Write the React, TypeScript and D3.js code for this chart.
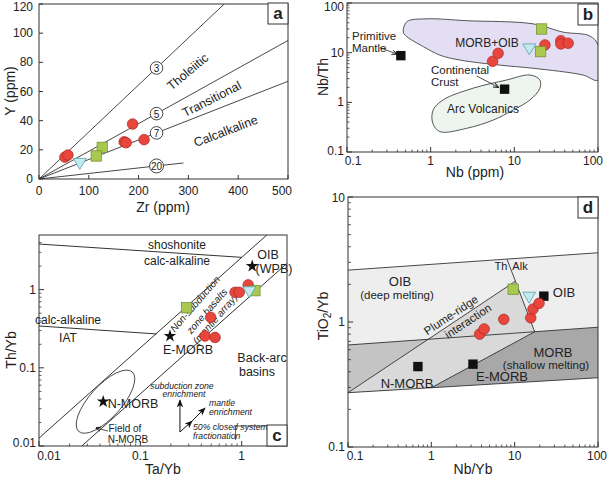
import React from 'react';
import * as d3 from 'd3';

type Pt = [number, number];
const FONT = "'Liberation Sans', Arial, Helvetica, sans-serif";

// ---------------- Panel a : Y vs Zr ----------------
const aXTicks = [0, 100, 200, 300, 400, 500];
const aYTicks = [0, 20, 40, 60, 80, 100, 120];
const aRatioLabels = ['3', '5', '7', '20'];
const aRatioEndZr = [372, 500, 500, 290];
const aRatioEndY = [120, 95, 67, 11];
const aRatioLabelZr = 236;
const aFieldNames = ['Tholeiitic', 'Transitional', 'Calcalkaline'];
const aFieldZr = [299, 347, 375];
const aFieldY = [73.4, 54.7, 32.7];
const aFieldAngle = [-40, -27, -21];
const aRedZr = [52, 58, 188, 171, 175, 211];
const aRedY = [15, 16.4, 37.7, 25.5, 24.9, 27];
const aGreenZr = [127, 115];
const aGreenY = [21.7, 15.8];
const aCyanZr = [82];
const aCyanY = [10.7];

// ---------------- Panel b : Nb/Th vs Nb ----------------
const bMorbOibNb = [0.47, 0.52, 0.9, 2.7, 16.8, 38, 80, 100, 100, 66, 16.8, 6.8, 2.24, 1.29, 0.82, 0.52];
const bMorbOibNbTh = [26, 42, 48, 44, 38, 26, 21.7, 14.3, 2.8, 3.55, 4.85, 5.6, 7.1, 8.9, 13.2, 21];
const bArcNb = [1.07, 1.41, 3.2, 8.1, 15.4, 20.2, 20.2, 15.4, 9.7, 5.6, 2.7, 1.29, 1.06];
const bArcNbTh = [0.7, 1.12, 1.92, 2.82, 3.55, 2.82, 1.92, 1.12, 0.7, 0.44, 0.3, 0.257, 0.38];
const bRefNames = ['Primitive Mantle', 'Continental Crust'];
const bRefNb = [0.44, 7.65];
const bRefNbTh = [8.7, 1.84];
const bRedNb = [5.5, 6.4, 23.2, 36, 36, 44];
const bRedNbTh = [6.7, 9.7, 14.3, 17.4, 15, 15.5];
const bGreenNb = [21.2, 20.6];
const bGreenNbTh = [30, 10.5];
const bCyanNb = [15.1];
const bCyanNbTh = [11.9];
const bTicks = [0.1, 1, 10, 100];
const bTickLabels = ['0.1', '1', '10', '100'];

// ---------------- Panel c : Th/Yb vs Ta/Yb ----------------
const cUpperDiag: Pt[] = [[0.01, 0.0126], [1.77, 5.0]];
const cLowerDiag: Pt[] = [[0.0264, 0.01], [2.8, 2.17]];
const cShoshLine: Pt[] = [[0.01, 3.83], [1.0, 2.59]];
const cIatLine: Pt[] = [[0.01, 0.343], [0.145, 0.271]];
const cStarNames = ['OIB', 'E-MORB', 'N-MORB'];
const cStarTaYb = [1.27, 0.196, 0.043];
const cStarThYb = [2.0, 0.255, 0.037];
const cRedTaYb = [1.16, 0.86, 0.946, 0.494, 0.435, 0.546];
const cRedThYb = [1.15, 0.925, 0.925, 0.443, 0.255, 0.245];
const cGreenTaYb = [0.286, 1.35];
const cGreenThYb = [0.587, 0.97];
const cCyanTaYb = [1.19];
const cCyanThYb = [0.94];
const cNmorbField: Pt = [0.0453, 0.0369];
const cXTicks = [0.01, 0.1, 1];
const cXTickLabels = ['0.01', '0.1', '1'];
const cYTicks = [0.01, 0.1, 1];
const cYTickLabels = ['0.01', '0.1', '1'];
const cVecOrigin: Pt = [0.246, 0.0151];
const cVecSubduction: Pt = [0.246, 0.0387];
const cVecFractMid: Pt = [0.324, 0.0209];
const cVecMantle: Pt = [0.435, 0.0306];

// ---------------- Panel d : TiO2/Yb vs Nb/Yb ----------------
const dOibTop: Pt[] = [[0.1, 2.6], [100, 3.58]];
const dMidLine: Pt[] = [[0.1, 0.655], [100, 0.908]];
const dBotLine: Pt[] = [[0.1, 0.272], [100, 0.358]];
const dPlume: Pt[] = [[0.1, 0.272], [10.2, 2.12]];
const dThAlk: Pt[] = [[8.1, 3.17], [17.4, 0.836]];
const dEmorb: Pt[] = [[1.0, 0.298], [17.4, 0.836]];
const dRefNames = ['N-MORB', 'E-MORB', 'OIB'];
const dRefNbYb = [0.69, 3.16, 22.4];
const dRefTiYb = [0.44, 0.46, 1.61];
const dRedNbYb = [3.81, 4.3, 7.4, 15.6, 16.6, 19.6];
const dRedTiYb = [0.8, 0.88, 1.05, 1.08, 1.27, 1.41];
const dGreenNbYb = [9.6];
const dGreenTiYb = [1.83];
const dCyanNbYb = [14.9];
const dCyanTiYb = [1.58];
const dXTicks = [0.1, 1, 10, 100];
const dXTickLabels = ['0.1', '1', '10', '100'];
const dYTicks = [0.1, 1, 10];
const dYTickLabels = ['0.1', '1', '10'];

// ---------------- helpers ----------------
const STROKE = '#333';
const RED = '#e8453c';
const RED_S = '#a52a24';
const GREEN = '#a9c84f';
const GREEN_S = '#6d8c2c';
const CYAN = '#c2ebf0';
const CYAN_S = '#5e9fa8';

function minorLogTicks(lo: number, hi: number): number[] {
  const out: number[] = [];
  for (let e = Math.floor(Math.log10(lo)); e <= Math.ceil(Math.log10(hi)); e++) {
    for (let m = 2; m < 10; m++) {
      const v = m * Math.pow(10, e);
      if (v > lo * 1.0001 && v < hi * 0.9999) out.push(v);
    }
  }
  return out;
}

function intersect(a1: number[], a2: number[], b1: number[], b2: number[]): number[] {
  const d = (a1[0] - a2[0]) * (b1[1] - b2[1]) - (a1[1] - a2[1]) * (b1[0] - b2[0]);
  const t = ((a1[0] - b1[0]) * (b1[1] - b2[1]) - (a1[1] - b1[1]) * (b1[0] - b2[0])) / d;
  return [a1[0] + t * (a2[0] - a1[0]), a1[1] + t * (a2[1] - a1[1])];
}

const Dot = ({ x, y }: { x: number; y: number }) => (
  <circle cx={x} cy={y} r={5.3} fill={RED} stroke={RED_S} strokeWidth={0.7} />
);
const GSq = ({ x, y }: { x: number; y: number }) => (
  <rect x={x - 5.2} y={y - 5.2} width={10.4} height={10.4} fill={GREEN} stroke={GREEN_S} strokeWidth={0.7} />
);
const CTri = ({ x, y }: { x: number; y: number }) => (
  <path d={`M${x - 6.5},${y - 5} L${x + 6.5},${y - 5} L${x},${y + 6} Z`} fill={CYAN} stroke={CYAN_S} strokeWidth={0.8} />
);
const BSq = ({ x, y }: { x: number; y: number }) => (
  <rect x={x - 4.7} y={y - 4.7} width={9.4} height={9.4} fill="#111" />
);
const starPath = d3.symbol().type(d3.symbolStar).size(50)() as string;
const Star = ({ x, y }: { x: number; y: number }) => (
  <path d={starPath} transform={`translate(${x},${y})`} fill="#111" />
);

const T = (p: {
  x: number; y: number; s?: number; a?: 'start' | 'middle' | 'end'; rot?: number; it?: boolean; b?: boolean; children: any;
}) => (
  <text
    transform={`translate(${p.x},${p.y})${p.rot ? ` rotate(${p.rot})` : ''}`}
    fontSize={p.s ?? 12}
    textAnchor={p.a ?? 'middle'}
    dominantBaseline="central"
    fontStyle={p.it ? 'italic' : 'normal'}
    fontWeight={p.b ? 'bold' : 'normal'}
    fill="#222"
  >
    {p.children}
  </text>
);

const PanelTag = ({ x1, y1, label }: { x1: number; y1: number; label: string }) => (
  <g>
    <rect x={x1 - 20} y={y1} width={20} height={21} fill="#fff" stroke={STROKE} strokeWidth={1} />
    <T x={x1 - 10} y={y1 + 10.5} s={17} b>{label}</T>
  </g>
);

// ---------------- Panel a ----------------
function PanelA() {
  const x = d3.scaleLinear().domain([0, 500]).range([39, 288]);
  const y = d3.scaleLinear().domain([0, 120]).range([179, 4]);
  const [x0, x1] = x.range();
  const [y0, y1] = y.range();
  return (
    <g>
      <defs>
        <clipPath id="clipA"><rect x={x0} y={y1} width={x1 - x0} height={y0 - y1} /></clipPath>
      </defs>
      <g clipPath="url(#clipA)">
        {aRatioEndZr.map((zr, i) => (
          <line key={i} x1={x(0)} y1={y(0)} x2={x(zr)} y2={y(aRatioEndY[i])} stroke={STROKE} strokeWidth={0.9} />
        ))}
      </g>
      {aRatioLabels.map((lab, i) => {
        const yv = (aRatioEndY[i] / aRatioEndZr[i]) * aRatioLabelZr;
        return (
          <g key={lab}>
            <circle cx={x(aRatioLabelZr)} cy={y(yv)} r={lab.length > 1 ? 7 : 6.3} fill="#fff" stroke={STROKE} strokeWidth={0.9} />
            <T x={x(aRatioLabelZr)} y={y(yv) + 0.5} s={10}>{lab}</T>
          </g>
        );
      })}
      {aFieldNames.map((n, i) => (
        <T key={n} x={x(aFieldZr[i])} y={y(aFieldY[i])} rot={aFieldAngle[i]} s={12.5}>{n}</T>
      ))}
      {aRedZr.map((v, i) => <Dot key={'r' + i} x={x(v)} y={y(aRedY[i])} />)}
      {aGreenZr.map((v, i) => <GSq key={'g' + i} x={x(v)} y={y(aGreenY[i])} />)}
      {aCyanZr.map((v, i) => <CTri key={'c' + i} x={x(v)} y={y(aCyanY[i])} />)}
      <rect x={x0} y={y1} width={x1 - x0} height={y0 - y1} fill="none" stroke={STROKE} strokeWidth={1} />
      {aXTicks.map((t) => (
        <g key={'xt' + t}>
          <line x1={x(t)} x2={x(t)} y1={y0} y2={y0 - 4} stroke={STROKE} />
          <T x={x(t) - (t === 500 ? 6 : 0)} y={y0 + 12} s={12}>{String(t)}</T>
        </g>
      ))}
      {aYTicks.map((t) => (
        <g key={'yt' + t}>
          <line x1={x0} x2={x0 + 4} y1={y(t)} y2={y(t)} stroke={STROKE} />
          <T x={x0 - 6} y={y(t) + (t === 120 ? 3 : 0)} a="end" s={12}>{String(t)}</T>
        </g>
      ))}
      <T x={163} y={207} s={14}>Zr (ppm)</T>
      <T x={10} y={91} s={14} rot={-90}>Y (ppm)</T>
      <PanelTag x1={x1} y1={y1 - 1} label="a" />
    </g>
  );
}

// ---------------- Panel b ----------------
function PanelB() {
  const x = d3.scaleLog().domain([0.1, 100]).range([347, 598]);
  const y = d3.scaleLog().domain([0.1, 100]).range([152, 3]);
  const [x0, x1] = x.range();
  const [y0, y1] = y.range();
  const closed = d3.line<Pt>().x((d) => x(d[0])).y((d) => y(d[1])).curve(d3.curveCatmullRomClosed.alpha(0.5));
  const morb: Pt[] = bMorbOibNb.map((v, i) => [v, bMorbOibNbTh[i]]);
  const arc: Pt[] = bArcNb.map((v, i) => [v, bArcNbTh[i]]);
  return (
    <g>
      <defs>
        <clipPath id="clipB"><rect x={x0} y={y1} width={x1 - x0} height={y0 - y1} /></clipPath>
      </defs>
      <g clipPath="url(#clipB)">
        <path d={closed(morb) as string} fill="#e4def4" stroke="#444" strokeWidth={0.9} />
        <path d={closed(arc) as string} fill="#eef5ee" stroke="#444" strokeWidth={0.9} />
      </g>
      <T x={352} y={36} a="start" s={11.5}>Primitive</T>
      <T x={352} y={48} a="start" s={11.5}>Mantle</T>
      <line x1={x(0.248)} y1={y(12.6)} x2={x(0.393)} y2={y(9.4)} stroke="#222" strokeWidth={0.8} markerEnd="url(#ahSmall)" />
      <T x={487} y={43} s={12}>MORB+OIB</T>
      <T x={431} y={70} a="start" s={11.5}>Continental</T>
      <T x={431} y={81.5} a="start" s={11.5}>Crust</T>
      <line x1={x(3.55)} y1={y(3.39)} x2={x(6.43)} y2={y(2.01)} stroke="#222" strokeWidth={0.8} markerEnd="url(#ahSmall)" />
      <T x={483} y={108.5} s={12}>Arc Volcanics</T>
      {bRefNb.map((v, i) => <BSq key={'k' + i} x={x(v)} y={y(bRefNbTh[i])} />)}
      {bRedNb.map((v, i) => <Dot key={'r' + i} x={x(v)} y={y(bRedNbTh[i])} />)}
      {bGreenNb.map((v, i) => <GSq key={'g' + i} x={x(v)} y={y(bGreenNbTh[i])} />)}
      {bCyanNb.map((v, i) => <CTri key={'c' + i} x={x(v)} y={y(bCyanNbTh[i])} />)}
      <rect x={x0} y={y1} width={x1 - x0} height={y0 - y1} fill="none" stroke={STROKE} strokeWidth={1} />
      {minorLogTicks(0.1, 100).map((t) => (
        <g key={'m' + t}>
          <line x1={x(t)} x2={x(t)} y1={y0} y2={y0 - 2.5} stroke={STROKE} strokeWidth={0.8} />
          <line x1={x0} x2={x0 + 2.5} y1={y(t)} y2={y(t)} stroke={STROKE} strokeWidth={0.8} />
        </g>
      ))}
      {bTicks.map((t, i) => (
        <g key={'t' + t}>
          <line x1={x(t)} x2={x(t)} y1={y0} y2={y0 - 5} stroke={STROKE} />
          <line x1={x0} x2={x0 + 5} y1={y(t)} y2={y(t)} stroke={STROKE} />
          <T x={x(t) + (i === 0 ? 6 : i === 3 ? -5 : 0)} y={y0 + 9} s={12}>{bTickLabels[i]}</T>
          <T x={x0 - 3} y={y(t) + (i === 0 ? -1 : i === 3 ? 4 : 0)} a="end" s={12}>{bTickLabels[i]}</T>
        </g>
      ))}
      <T x={475} y={172} s={14}>Nb (ppm)</T>
      <T x={323} y={77} s={14} rot={-90}>Nb/Th</T>
      <PanelTag x1={x1} y1={y1 + 1} label="b" />
    </g>
  );
}

// ---------------- Panel c ----------------
function PanelC() {
  const x = d3.scaleLog().domain([0.01, 2.8]).range([39, 287]);
  const y = d3.scaleLog().domain([0.01, 5]).range([446, 235]);
  const [x0, x1] = x.range();
  const [y0, y1] = y.range();
  const L = (seg: Pt[], k: string) => (
    <line key={k} x1={x(seg[0][0])} y1={y(seg[0][1])} x2={x(seg[1][0])} y2={y(seg[1][1])} stroke={STROKE} strokeWidth={1} />
  );
  const ex = x(cNmorbField[0]);
  const ey = y(cNmorbField[1]);
  return (
    <g>
      <defs>
        <clipPath id="clipC"><rect x={x0} y={y1} width={x1 - x0} height={y0 - y1} /></clipPath>
      </defs>
      <g clipPath="url(#clipC)">
        {L(cUpperDiag, 'u')}
        {L(cLowerDiag, 'l')}
        {L(cShoshLine, 's')}
        {L(cIatLine, 'i')}
        <ellipse cx={ex} cy={ey} rx={40} ry={16} transform={`rotate(-48 ${ex} ${ey})`} fill="none" stroke="#444" strokeWidth={0.9} />
      </g>
      <T x={177} y={245} s={12}>shoshonite</T>
      <T x={177} y={261} s={12}>calc-alkaline</T>
      <T x={68} y={320} s={12}>calc-alkaline</T>
      <T x={68} y={338} s={12}>IAT</T>
      <T x={268} y={255} s={12.5}>OIB</T>
      <T x={274} y={269} s={12.5}>(WPB)</T>
      <T x={188} y={350} s={12.5}>E-MORB</T>
      <T x={262} y={358} s={12.5}>Back-arc</T>
      <T x={257} y={372} s={12.5}>basins</T>
      <T x={133} y={404} s={12.5}>N-MORB</T>
      <T x={125} y={428} s={10}>Field of</T>
      <T x={128} y={439} s={10}>N-MORB</T>
      <line x1={108} y1={431} x2={96} y2={428} stroke="#222" strokeWidth={0.8} markerEnd="url(#ahSmall)" />
      <T x={195} y={304} s={10} it rot={-49}>Non-subduction</T>
      <T x={207} y={311} s={10} it rot={-49}>zone basalts</T>
      <T x={215} y={319} s={10} it rot={-49}>(mantle array)</T>
      <T x={182} y={385.5} s={8.7} it>subduction zone</T>
      <T x={184} y={394} s={8.7} it>enrichment</T>
      <T x={209} y={403} a="start" s={8.7} it>mantle</T>
      <T x={209} y={411.5} a="start" s={8.7} it>enrichment</T>
      <T x={193} y={426.5} a="start" s={8.7} it>50% closed system</T>
      <T x={193} y={435.5} a="start" s={8.7} it>fractionation</T>
      <line x1={x(cVecOrigin[0])} y1={y(cVecOrigin[1])} x2={x(cVecSubduction[0])} y2={y(cVecSubduction[1])} stroke="#111" strokeWidth={1} markerEnd="url(#ahBig)" />
      <path
        d={`M${x(cVecOrigin[0])},${y(cVecOrigin[1])} L${x(cVecFractMid[0])},${y(cVecFractMid[1])} L${x(cVecMantle[0])},${y(cVecMantle[1])}`}
        fill="none" stroke="#111" strokeWidth={1} markerMid="url(#ahBig)" markerEnd="url(#ahBig)"
      />
      <polyline points={`${x(0.87)},${y0 - 6} ${x(0.87)},${y0 - 20} ${x1 - 20},${y0 - 20}`} fill="none" stroke={STROKE} strokeWidth={0.8} />
      {cStarTaYb.map((v, i) => <Star key={'s' + i} x={x(v)} y={y(cStarThYb[i])} />)}
      {cRedTaYb.map((v, i) => <Dot key={'r' + i} x={x(v)} y={y(cRedThYb[i])} />)}
      {cGreenTaYb.map((v, i) => <GSq key={'g' + i} x={x(v)} y={y(cGreenThYb[i])} />)}
      {cCyanTaYb.map((v, i) => <CTri key={'c' + i} x={x(v)} y={y(cCyanThYb[i])} />)}
      <rect x={x0} y={y1} width={x1 - x0} height={y0 - y1} fill="none" stroke={STROKE} strokeWidth={1} />
      {minorLogTicks(0.01, 2.8).map((t) => (
        <line key={'mx' + t} x1={x(t)} x2={x(t)} y1={y0} y2={y0 - 2.5} stroke={STROKE} strokeWidth={0.8} />
      ))}
      {minorLogTicks(0.01, 5).map((t) => (
        <line key={'my' + t} x1={x0} x2={x0 + 2.5} y1={y(t)} y2={y(t)} stroke={STROKE} strokeWidth={0.8} />
      ))}
      {cXTicks.map((t, i) => (
        <g key={'xt' + t}>
          <line x1={x(t)} x2={x(t)} y1={y0} y2={y0 - 5} stroke={STROKE} />
          <T x={x(t) + (i === 0 ? 10 : 0)} y={y0 + 10} s={12}>{cXTickLabels[i]}</T>
        </g>
      ))}
      {cYTicks.map((t, i) => (
        <g key={'yt' + t}>
          <line x1={x0} x2={x0 + 5} y1={y(t)} y2={y(t)} stroke={STROKE} />
          <T x={x0 - 3} y={y(t) - (i === 0 ? 3 : 0)} a="end" s={12}>{cYTickLabels[i]}</T>
        </g>
      ))}
      <T x={163} y={469} s={14}>Ta/Yb</T>
      <T x={11} y={350} s={14} rot={-90}>Th/Yb</T>
      <PanelTag x1={x1} y1={y0 - 21} label="c" />
    </g>
  );
}

// ---------------- Panel d ----------------
function PanelD() {
  const x = d3.scaleLog().domain([0.1, 100]).range([348, 598]);
  const y = d3.scaleLog().domain([0.1, 10]).range([447, 197]);
  const [x0, x1] = x.range();
  const [y0, y1] = y.range();
  const P = (p: Pt) => [x(p[0]), y(p[1])];
  const poly = (pts: number[][]) => pts.map((p) => p.join(',')).join(' ');
  const top0 = P(dOibTop[0]), top1 = P(dOibTop[1]);
  const mid0 = P(dMidLine[0]), mid1 = P(dMidLine[1]);
  const bot0 = P(dBotLine[0]), bot1 = P(dBotLine[1]);
  const pl0 = P(dPlume[0]), plT = P(dPlume[1]);
  const plMid = intersect(pl0, plT, mid0, mid1);
  const ta0 = P(dThAlk[0]), ta1 = P(dThAlk[1]);
  const em0 = P(dEmorb[0]);
  const L = (a: number[], b: number[], k: string) => (
    <line key={k} x1={a[0]} y1={a[1]} x2={b[0]} y2={b[1]} stroke={STROKE} strokeWidth={0.9} />
  );
  return (
    <g>
      <polygon points={poly([top0, top1, mid1, mid0])} fill="#eeeeee" />
      <polygon points={poly([mid0, mid1, bot1, bot0])} fill="#a8a8a8" />
      <polygon points={poly([mid0, plMid, pl0])} fill="#c4c4c4" />
      <polygon points={poly([pl0, plT, ta1, em0])} fill="#d9d9d9" />
      {L(top0, top1, 't')}
      {L(mid0, mid1, 'm')}
      {L(bot0, bot1, 'b')}
      {L(pl0, plT, 'p')}
      {L(ta0, ta1, 'a')}
      {L(em0, ta1, 'e')}
      <T x={400} y={281} s={13}>OIB</T>
      <T x={397} y={294.5} s={11.5}>(deep melting)</T>
      <T x={501} y={266} s={11}>Th</T>
      <T x={520} y={266} s={11}>Alk</T>
      <T x={564} y={292} s={13}>OIB</T>
      <T x={451} y={315} s={11.5} rot={-33.5}>Plume-ridge</T>
      <T x={468} y={321} s={11.5} rot={-33.5}>interaction</T>
      <T x={553} y={352} s={13}>MORB</T>
      <T x={546} y={365} s={11.5}>(shallow melting)</T>
      <T x={407} y={383} s={13}>N-MORB</T>
      <T x={502} y={376} s={13}>E-MORB</T>
      {dRefNbYb.map((v, i) => <BSq key={'k' + i} x={x(v)} y={y(dRefTiYb[i])} />)}
      {dRedNbYb.map((v, i) => <Dot key={'r' + i} x={x(v)} y={y(dRedTiYb[i])} />)}
      {dGreenNbYb.map((v, i) => <GSq key={'g' + i} x={x(v)} y={y(dGreenTiYb[i])} />)}
      {dCyanNbYb.map((v, i) => <CTri key={'c' + i} x={x(v)} y={y(dCyanTiYb[i])} />)}
      <rect x={x0} y={y1} width={x1 - x0} height={y0 - y1} fill="none" stroke={STROKE} strokeWidth={1} />
      {minorLogTicks(0.1, 100).map((t) => (
        <line key={'mx' + t} x1={x(t)} x2={x(t)} y1={y0} y2={y0 - 2.5} stroke={STROKE} strokeWidth={0.8} />
      ))}
      {minorLogTicks(0.1, 10).map((t) => (
        <line key={'my' + t} x1={x0} x2={x0 + 3} y1={y(t)} y2={y(t)} stroke={STROKE} strokeWidth={0.8} />
      ))}
      {dXTicks.map((t, i) => (
        <g key={'xt' + t}>
          <line x1={x(t)} x2={x(t)} y1={y0} y2={y0 - 5} stroke={STROKE} />
          <T x={x(t) + (i === 0 ? 7 : i === 3 ? -1 : 0)} y={y0 + 9} s={12}>{dXTickLabels[i]}</T>
        </g>
      ))}
      {dYTicks.map((t, i) => (
        <g key={'yt' + t}>
          <line x1={x0} x2={x0 + 5} y1={y(t)} y2={y(t)} stroke={STROKE} />
          <T x={x0 - 3} y={y(t) + (i === 2 ? 1 : 0)} a="end" s={12}>{dYTickLabels[i]}</T>
        </g>
      ))}
      <T x={473} y={469} s={14}>Nb/Yb</T>
      <text transform="translate(323,316) rotate(-90)" fontSize={14} textAnchor="middle" dominantBaseline="central" fill="#222">
        TiO<tspan fontSize={10} dy={4}>2</tspan><tspan dy={-4}>/Yb</tspan>
      </text>
      <PanelTag x1={x1} y1={y1} label="d" />
    </g>
  );
}

export default function App() {
  return (
    <svg
      width={609}
      height={478}
      viewBox="0 0 609 478"
      style={{ position: 'absolute', left: 0, top: 0, background: '#fff' }}
      fontFamily={FONT}
    >
      <defs>
        <marker id="ahSmall" viewBox="0 0 10 10" refX="9" refY="5" markerWidth="7" markerHeight="7" orient="auto">
          <path d="M0,1 L10,5 L0,9" fill="none" stroke="#111" strokeWidth={1.6} />
        </marker>
        <marker id="ahBig" viewBox="0 0 10 10" refX="9" refY="5" markerWidth="8" markerHeight="8" orient="auto">
          <path d="M0,1 L10,5 L0,9 L2.5,5 z" fill="#111" />
        </marker>
      </defs>
      <rect x={0} y={0} width={609} height={478} fill="#fff" />
      <PanelA />
      <PanelB />
      <PanelC />
      <PanelD />
    </svg>
  );
}
